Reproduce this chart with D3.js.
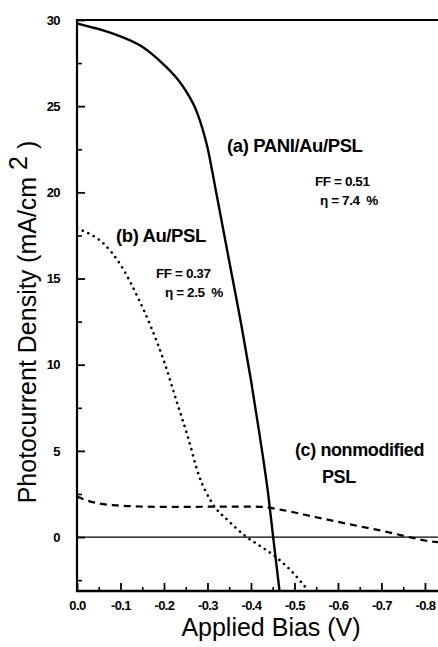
<!DOCTYPE html>
<html><head><meta charset="utf-8">
<script src="https://cdn.jsdelivr.net/npm/d3@7"></script>
<style>body{margin:0;background:#fff;} svg{display:block;}</style>
</head><body>
<svg id="c" width="438" height="647"></svg>
<script>
const biasA = [0, -0.03, -0.06, -0.10, -0.15, -0.20, -0.23, -0.25, -0.275, -0.30, -0.32, -0.35, -0.38, -0.40, -0.42, -0.44, -0.451, -0.466];
const jA    = [29.8, 29.6, 29.4, 29.05, 28.45, 27.4, 26.6, 25.9, 24.7, 22.6, 20.0, 16.0, 12.0, 9.1, 5.9, 2.4, 0.0, -3.2];
const biasB = [0, -0.02, -0.06, -0.10, -0.14, -0.17, -0.20, -0.23, -0.255, -0.28, -0.31, -0.35, -0.39, -0.42, -0.457, -0.49, -0.53];
const jB    = [17.9, 17.7, 17.05, 15.8, 13.9, 12.2, 10.2, 7.8, 5.8, 3.6, 2.0, 0.9, 0.0, -0.5, -1.15, -1.9, -3.05];
const biasC = [0, -0.02, -0.05, -0.10, -0.15, -0.20, -0.30, -0.40, -0.43, -0.47, -0.55, -0.60, -0.65, -0.70, -0.76, -0.80, -0.83];
const jC    = [2.35, 2.15, 1.95, 1.82, 1.77, 1.75, 1.76, 1.77, 1.74, 1.58, 1.15, 0.88, 0.62, 0.37, 0.02, -0.2, -0.3];
const xTicks = [0, -0.1, -0.2, -0.3, -0.4, -0.5, -0.6, -0.7, -0.8];
const xTickLabels = ["0.0", "-0.1", "-0.2", "-0.3", "-0.4", "-0.5", "-0.6", "-0.7", "-0.8"];
const yTicks = [0, 5, 10, 15, 20, 25, 30];
const yTickLabels = ["0", "5", "10", "15", "20", "25", "30"];
const xMinor = [-0.05, -0.15, -0.25, -0.35, -0.45, -0.55, -0.65, -0.75];
const yMinor = [-2.5, 2.5, 7.5, 12.5, 17.5, 22.5, 27.5];

const svg = d3.select("#c");
const L = 77, R = 438, T = 20, B = 591;
const x = d3.scaleLinear().domain([0, -0.83]).range([L, R]);
const y = d3.scaleLinear().domain([-3.13, 30]).range([B, T]);
const font = "'Liberation Sans', Arial, Helvetica, sans-serif";

svg.append("defs").append("clipPath").attr("id","clip")
  .append("rect").attr("x",L).attr("y",T).attr("width",R-L).attr("height",B-T);

svg.append("line").attr("x1",L).attr("x2",R).attr("y1",y(0)).attr("y2",y(0))
  .attr("stroke","#000").attr("stroke-width",1.2);

const line = d3.line().x(d=>x(d[0])).y(d=>y(d[1])).curve(d3.curveMonotoneX);
const g = svg.append("g").attr("clip-path","url(#clip)");
g.append("path").datum(biasA.map((v,i)=>[v,jA[i]])).attr("d",line)
  .attr("fill","none").attr("stroke","#000").attr("stroke-width",2.4);
g.append("path").datum(biasB.map((v,i)=>[v,jB[i]])).attr("d",line)
  .attr("fill","none").attr("stroke","#000").attr("stroke-width",2.6)
  .attr("stroke-dasharray","0.1 6").attr("stroke-linecap","round");
g.append("path").datum(biasC.map((v,i)=>[v,jC[i]])).attr("d",line)
  .attr("fill","none").attr("stroke","#000").attr("stroke-width",2.2)
  .attr("stroke-dasharray","7 5");

const xAxis = svg.append("g").attr("transform",`translate(0,${B})`)
  .call(d3.axisBottom(x).tickValues(xTicks).tickSize(-8).tickFormat((d,i)=>xTickLabels[i]).tickPadding(10));
xAxis.select(".domain").remove();
xAxis.selectAll(".tick line").attr("stroke-width",1.8);
xAxis.selectAll("text").attr("font-family",font).attr("font-weight","bold").attr("font-size",13).attr("letter-spacing",-0.6);
const xAxisMinor = svg.append("g").attr("transform",`translate(0,${B})`)
  .call(d3.axisBottom(x).tickValues(xMinor).tickSize(-4).tickFormat(""));
xAxisMinor.select(".domain").remove();
xAxisMinor.selectAll(".tick line").attr("stroke-width",1.6);

const yAxis = svg.append("g").attr("transform",`translate(${L},0)`)
  .call(d3.axisLeft(y).tickValues(yTicks).tickSize(-8).tickFormat((d,i)=>yTickLabels[i]).tickPadding(17));
yAxis.select(".domain").remove();
yAxis.selectAll(".tick line").attr("stroke-width",1.8);
yAxis.selectAll("text").attr("font-family",font).attr("font-weight","bold").attr("font-size",13).attr("letter-spacing",-0.6);
const yAxisMinor = svg.append("g").attr("transform",`translate(${L},0)`)
  .call(d3.axisLeft(y).tickValues(yMinor).tickSize(-5).tickFormat(""));
yAxisMinor.select(".domain").remove();
yAxisMinor.selectAll(".tick line").attr("stroke-width",1.6);

svg.append("line").attr("x1",L).attr("x2",L).attr("y1",T-1).attr("y2",B+1).attr("stroke","#000").attr("stroke-width",2.2);
svg.append("line").attr("x1",L-1).attr("x2",R).attr("y1",B).attr("y2",B).attr("stroke","#000").attr("stroke-width",2.4);
svg.append("line").attr("x1",L-1).attr("x2",R).attr("y1",T).attr("y2",T).attr("stroke","#000").attr("stroke-width",2.2);

svg.append("text").attr("x",271).attr("y",636).attr("text-anchor","middle")
  .attr("font-family",font).attr("font-size",25).text("Applied Bias (V)");
const yl = svg.append("text").attr("transform",`translate(36,322) rotate(-90)`).attr("text-anchor","middle")
  .attr("font-family",font).attr("font-size",25);
yl.append("tspan").text("Photocurrent Density (mA/cm");
yl.append("tspan").attr("dy",-9).text(" 2");
yl.append("tspan").attr("dy",9).text(" )");

function t(xp, yp, s, size){
  return svg.append("text").attr("x",xp).attr("y",yp).attr("font-family",font)
    .attr("font-weight","bold").attr("font-size",size).attr("letter-spacing",-0.4)
    .style("white-space","pre").text(s);
}
t(227,152,"(a) PANI/Au/PSL",18.5);
t(315,186,"FF = 0.51",13.5);
t(320,205,"\u03b7 = 7.4  %",13.5);
t(116,242,"(b) Au/PSL",18.5);
t(156,278,"FF = 0.37",13.5);
t(165,297,"\u03b7 = 2.5  %",13.5);
t(295,456,"(c) nonmodified",18);
t(322,483,"PSL",18);
</script>
</body></html>
